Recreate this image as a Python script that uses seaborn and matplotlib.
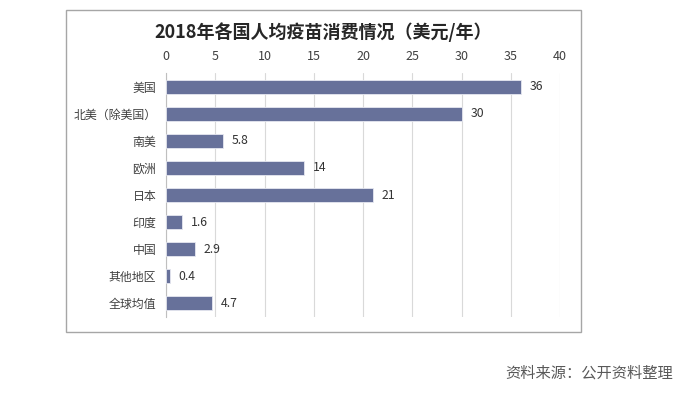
import pandas as pd
import matplotlib.pyplot as plt
import seaborn as sns
from matplotlib.patches import Rectangle

regions = ["美国", "北美（除美国）", "南美", "欧洲", "日本", "印度", "中国", "其他地区", "全球均值"]
spend = [36, 30, 5.8, 14, 21, 1.6, 2.9, 0.4, 4.7]
labels = ["36", "30", "5.8", "14", "21", "1.6", "2.9", "0.4", "4.7"]

df = pd.DataFrame({"region": regions, "spend": spend})

sns.set_style("white")
plt.rcParams["font.family"] = ["Noto Sans CJK SC", "DejaVu Sans"]

W, H = 693, 397
fig = plt.figure(figsize=(W / 100, H / 100), dpi=100)
# axes box in pixels: left 166, right 560, top 73, bottom 317
ax = fig.add_axes([166 / W, 1 - 317 / H, (560 - 166) / W, (317 - 73) / H])

sns.barplot(data=df, x="spend", y="region", color="#67719A", saturation=1,
            width=0.52, ax=ax, edgecolor="#E6E8F0", linewidth=0.6, zorder=3)

for i, (v, t) in enumerate(zip(spend, labels)):
    ax.text(v + 0.9, i, t, va="center", ha="left", fontsize=8.8, color="#333333")

ax.set_xlim(0, 40)
ax.set_xticks(range(0, 45, 5))
ax.xaxis.tick_top()
ax.tick_params(axis="x", length=0, labelsize=9, colors="#404040", pad=7)
ax.tick_params(axis="y", length=0, labelsize=8.6, colors="#404040", pad=7)
ax.set_xlabel("")
ax.set_ylabel("")
ax.grid(axis="x", color="#D9D9D9", linewidth=0.8, zorder=0)
for s in ["top", "right", "bottom"]:
    ax.spines[s].set_visible(False)
ax.spines["left"].set_color("#BFBFBF")
ax.spines["left"].set_linewidth(0.8)

fig.patches.append(Rectangle((66 / W, 1 - 332 / H), (581 - 66) / W, (332 - 10) / H,
                             transform=fig.transFigure, fill=False,
                             edgecolor="#A6A6A6", linewidth=1.0))

fig.text(323 / W, 1 - 32 / H, "2018年各国人均疫苗消费情况（美元/年）",
         ha="center", va="center", fontsize=13, fontweight="bold", color="#262626")
fig.text(673 / W, 1 - 373 / H, "资料来源：公开资料整理",
         ha="right", va="center", fontsize=11, color="#595959")

fig.savefig("out.png", dpi=100)
